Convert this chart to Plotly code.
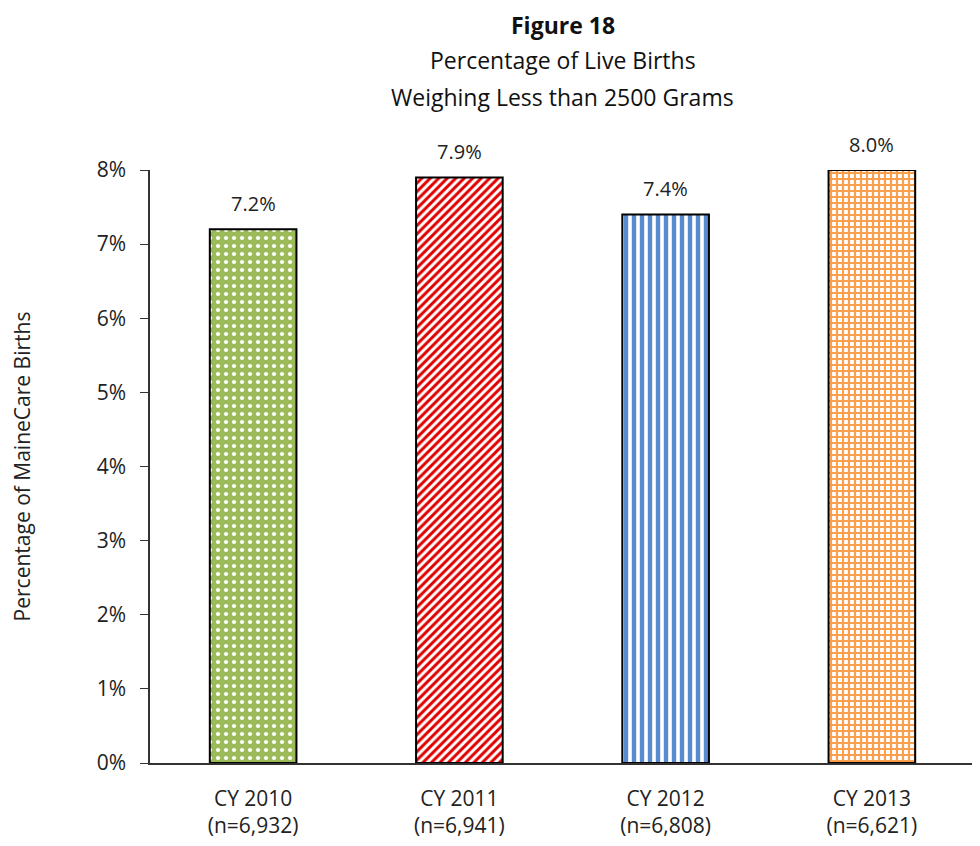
import plotly.graph_objects as go

categories = ["CY 2010<br>(n=6,932)", "CY 2011<br>(n=6,941)", "CY 2012<br>(n=6,808)", "CY 2013<br>(n=6,621)"]
values = [7.2, 7.9, 7.4, 8.0]
labels = ["7.2%", "7.9%", "7.4%", "8.0%"]
y_ticks = [0, 1, 2, 3, 4, 5, 6, 7, 8]
y_tick_text = ["0%", "1%", "2%", "3%", "4%", "5%", "6%", "7%", "8%"]

bg_colors = ["#9BBB59", "#FFFFFF", "#FFFFFF", "#FFFFFF"]
fg_colors = ["#FFFFFF", "#E00000", "#5B8BCF", "#F9A04E"]
shapes = [".", "/", "|", "+"]
sizes = [8, 6, 8, 6]
solidity = [0.22, 0.5, 0.55, 0.6]

font = "Open Sans, Liberation Sans, sans-serif"

fig = go.Figure()
for i in range(len(categories)):
    fig.add_trace(go.Bar(
        x=[categories[i]], y=[values[i]],
        width=0.42,
        marker=dict(
            color=bg_colors[i],
            line=dict(color="black", width=2),
            pattern=dict(shape=shapes[i], fgcolor=fg_colors[i], bgcolor=bg_colors[i],
                         size=sizes[i], solidity=solidity[i], fillmode="overlay",
                         fgopacity=1),
        ),
        hoverinfo="skip",
    ))

annotations = []
for c, v, t in zip(categories, values, labels):
    annotations.append(dict(x=c, y=v, text=t, xref="x", yref="y", showarrow=False,
                            yanchor="bottom", yshift=10,
                            font=dict(size=20, family=font, color="#222")))

title_lines = ["<b>Figure 18</b>", "Percentage of Live Births", "Weighing Less than 2500 Grams"]
title_y = [17, 52, 89]
for line, yy in zip(title_lines, title_y):
    annotations.append(dict(text=line, xref="paper", yref="paper", x=0.5,
                            y=1 + (162 - yy) / 593.0, yanchor="middle",
                            showarrow=False, font=dict(size=23, family=font, color="#111")))

fig.update_layout(
    width=980, height=846,
    barmode="overlay",
    margin=dict(l=142, r=13, t=162, b=91),
    plot_bgcolor="white", paper_bgcolor="white",
    font=dict(family=font, size=21, color="#222"),
    showlegend=False,
    annotations=annotations,
)
fig.update_yaxes(
    range=[0, 8], tickvals=y_ticks, ticktext=y_tick_text,
    showgrid=False, showline=True, linecolor="#333", linewidth=1.5,
    ticks="outside", ticklen=8, tickcolor="#333", ticklabelstandoff=10,
    title=dict(text="Percentage of MaineCare Births", font=dict(size=21), standoff=62),
    zeroline=False,
)
fig.update_xaxes(showline=True, linecolor="#333", linewidth=1.5, ticks="",
                 tickfont=dict(size=21), ticklabelstandoff=16)

fig.write_html("out.html")
